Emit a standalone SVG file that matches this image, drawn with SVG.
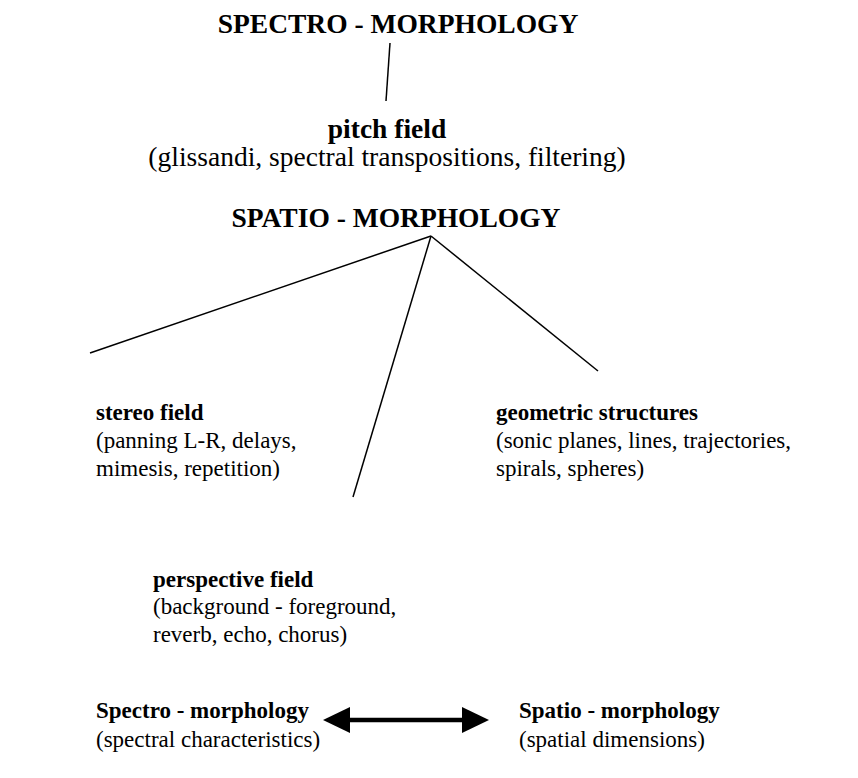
<svg xmlns="http://www.w3.org/2000/svg" width="858" height="778" viewBox="0 0 858 778">
<style>
text{font-family:"Liberation Serif","Times New Roman",serif;font-size:23px;fill:#000}
.t{font-size:27.5px}
.b{font-weight:bold}
.c{text-anchor:middle}
.ln{stroke:#000;stroke-width:1.5;fill:none}
</style>
<rect width="858" height="778" fill="#fff"/>
<g id="connectors">
<line class="ln" x1="390" y1="43" x2="386" y2="101"/>
<line class="ln" x1="431" y1="236" x2="90" y2="353"/>
<line class="ln" x1="431" y1="236" x2="353" y2="497"/>
<line class="ln" x1="431" y1="236" x2="598" y2="371"/>
<g id="double-arrow">
<line x1="345" y1="720" x2="467" y2="720" stroke="#000" stroke-width="4.5"/>
<path d="M323,720L350,707L350,733z" fill="#000"/>
<path d="M489,720L462,707L462,733z" fill="#000"/>
</g>
</g>
<g id="spectro-morphology"><text class="t b c" x="398" y="33">SPECTRO - MORPHOLOGY</text></g>
<g id="pitch-field"><text class="t b c" x="387" y="138">pitch field</text><text class="t c" x="387" y="166">(glissandi, spectral transpositions, filtering)</text></g>
<g id="spatio-morphology"><text class="t b c" x="396" y="227">SPATIO - MORPHOLOGY</text></g>
<g id="stereo-field"><text class="b" x="96" y="420">stereo field</text><text x="96" y="448">(panning L-R, delays,</text><text x="96" y="476">mimesis, repetition)</text></g>
<g id="geometric-structures"><text class="b" x="496" y="420">geometric structures</text><text x="496" y="448">(sonic planes, lines, trajectories,</text><text x="496" y="476">spirals, spheres)</text></g>
<g id="perspective-field"><text class="b" x="153" y="587">perspective field</text><text x="153" y="614">(background - foreground,</text><text x="153" y="642">reverb, echo, chorus)</text></g>
<g id="legend-spectro"><text class="b" x="96" y="718">Spectro - morphology</text><text x="96" y="747">(spectral characteristics)</text></g>
<g id="legend-spatio"><text class="b" x="519" y="718">Spatio - morphology</text><text x="519" y="747">(spatial dimensions)</text></g>
</svg>
